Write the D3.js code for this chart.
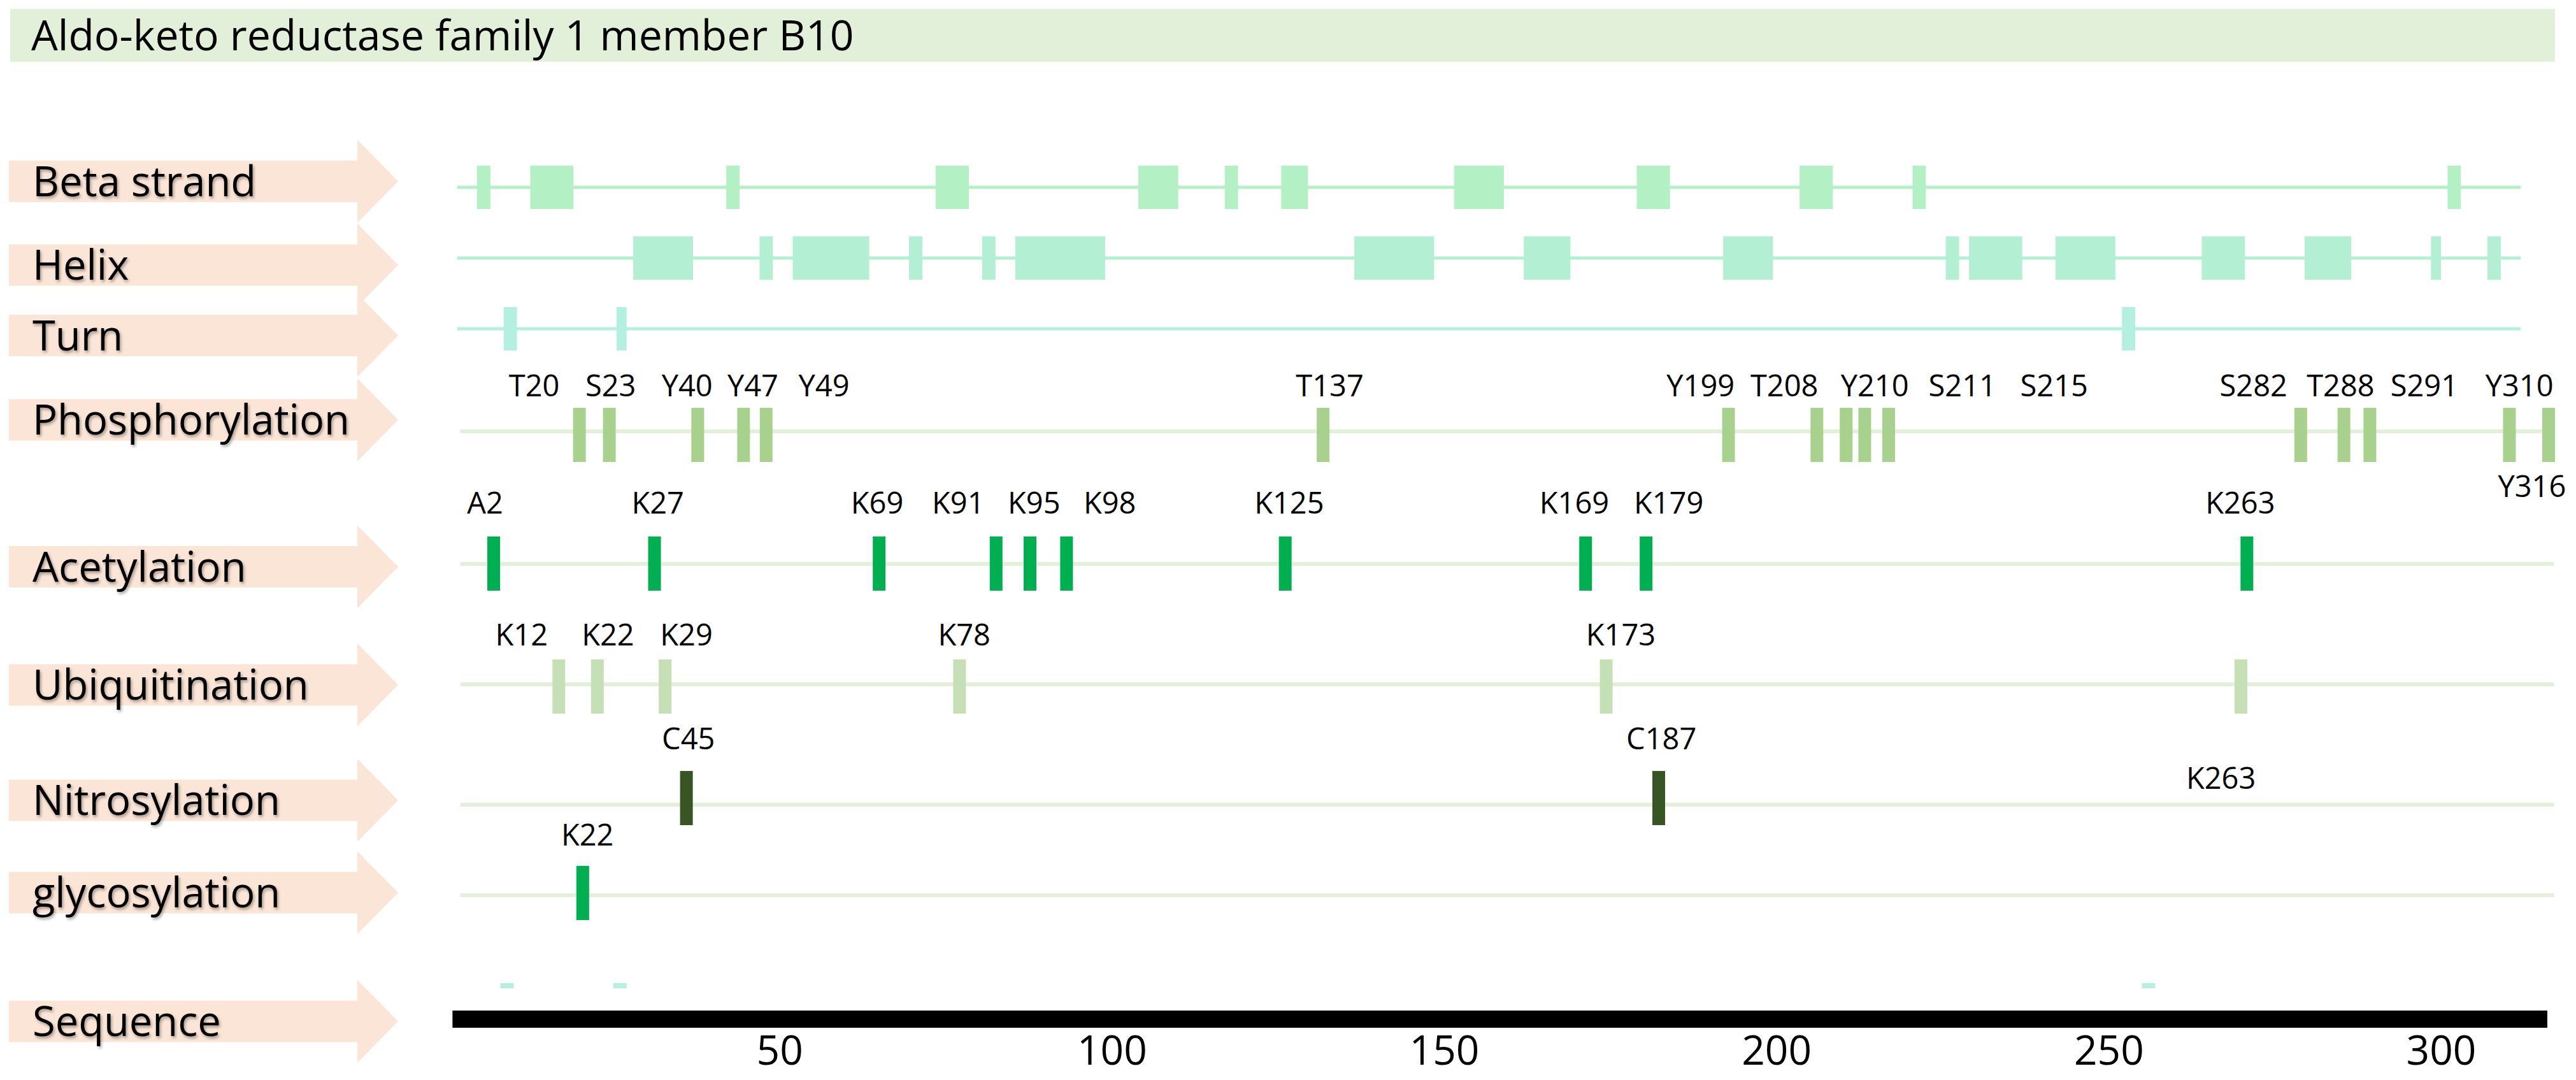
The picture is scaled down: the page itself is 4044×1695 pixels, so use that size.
<!DOCTYPE html>
<html>
<head>
<meta charset="utf-8">
<script src="https://cdn.jsdelivr.net/npm/d3@7"></script>
<style>
  body { margin: 0; background: white; }
  text { font-family: 'Open Sans', sans-serif; }
</style>
</head>
<body>
<div id="container"></div>
<script>
// ---- data (residue positions) ----
const title = 'Aldo-keto reductase family 1 member B10';
const rowNames = ['Beta strand', 'Helix', 'Turn', 'Phosphorylation', 'Acetylation',
                  'Ubiquitination', 'Nitrosylation', 'glycosylation', 'Sequence'];

const seqLength = 316;
const seqTicks = [50, 100, 150, 200, 250, 300];

const betaStrand = [[4.5,6.5],[12.5,19],[42,44],[73.5,78.5],[104,110],[117,119],[125.5,129.5],
                    [151.5,159],[179,184],[203.5,208.5],[220.5,222.5],[301,303]];
const helix = [[28,37],[47,49],[52,63.5],[69.5,71.5],[80.5,82.5],[85.5,99],[136.5,148.5],[162,169],
               [192,199.5],[225.5,227.5],[229,237],[242,251],[264,270.5],[279.5,286.5],[298.5,300],[307,309]];
const turn = [[8.5,10.5],[25.5,27],[252,254]];
const seqMarks = [[8,10],[25,27],[255,257]];

const phosNames = ['T20','S23','Y40','Y47','Y49','T137','Y199','T208','Y210','S211','S215',
                   'S282','T288','S291','Y310','Y316'];
const phosPos   = [19.9,24.4,37.7,44.6,48.0,131.8,192.8,206.1,210.5,213.3,216.9,278.9,285.4,289.3,310.3,316.2];
const phosLabel = [13.1,24.6,36.1,46.0,56.7,132.8,188.6,201.2,214.8,228.0,241.8,271.8,284.9,297.5,311.8,313.7];

const acetNames = ['A2','K27','K69','K91','K95','K98','K125','K169','K179','K263'];
const acetPos   = [7.0,31.2,65.0,82.6,87.7,93.2,126.1,171.3,180.4,270.8];
const acetLabel = [5.7,31.7,64.7,76.9,88.3,99.7,126.7,169.6,183.8,269.8];

const ubiqNames = ['K12','K22','K29','K78','K173','K263'];
const ubiqPos   = [16.8,22.6,32.8,77.1,174.4,269.9];
const ubiqLabel = [11.2,24.2,36.0,77.8,176.6,266.9];

const nitroNames = ['C45','C187'];
const nitroPos   = [36.0,182.3];
const nitroLabel = [36.3,182.7];

const glycoNames = ['K22'];
const glycoPos   = [20.4];
const glycoLabel = [21.1];

// ---- layout ----
let w = 4044, h = 1695;

let viz = d3.select('#container')
  .append('svg')
    .attr('width', w)
    .attr('height', h)
    .style('display', 'block')
    .style('background', 'white');

let x = d3.scaleLinear().domain([0, 300]).range([702, 3832]);

let arrowY = [284.5, 416, 526.5, 659, 889.5, 1075, 1256, 1401, 1603];

let defs = viz.append('defs');
let shadow = defs.append('filter').attr('id', 'shadow')
  .attr('x', '-10%').attr('y', '-30%').attr('width', '120%').attr('height', '160%');
shadow.append('feDropShadow')
  .attr('dx', 2).attr('dy', 3).attr('stdDeviation', 2)
  .attr('flood-color', '#000').attr('flood-opacity', 0.35);

function main() {
  // title band
  viz.append('rect')
    .attr('x', 16).attr('y', 14).attr('width', 3995).attr('height', 83)
    .attr('fill', '#e2f0d9');
  viz.append('text')
    .attr('x', 49).attr('y', 79)
    .attr('font-size', 66)
    .attr('fill', 'black')
    .text(title);

  // row arrows
  let arrows = viz.append('g');
  arrows.selectAll('path').data(rowNames).enter()
    .append('path')
      .attr('d', (d, i) => {
        let cy = arrowY[i];
        return 'M14,' + (cy - 32.5) + 'L561,' + (cy - 32.5) + 'L561,' + (cy - 65) +
               'L625,' + cy + 'L561,' + (cy + 65) + 'L561,' + (cy + 32.5) + 'L14,' + (cy + 32.5) + 'Z';
      })
      .attr('fill', '#fbe5d6');
  arrows.selectAll('text').data(rowNames).enter()
    .append('text')
      .attr('x', 51)
      .attr('y', (d, i) => arrowY[i] + 23)
      .attr('font-size', 65)
      .attr('fill', 'black')
      .attr('filter', 'url(#shadow)')
      .text(d => d);

  // secondary structure tracks
  let structs = [
    {data: betaStrand, y: 294, color: '#b3f0c4'},
    {data: helix, y: 405, color: '#b3efd3'},
    {data: turn, y: 516, color: '#b3f0e0'}
  ];
  structs.forEach(s => {
    let g = viz.append('g');
    g.append('line')
      .attr('x1', x(1.5)).attr('x2', x(312))
      .attr('y1', s.y).attr('y2', s.y)
      .attr('stroke', s.color).attr('stroke-width', 5);
    g.selectAll('rect').data(s.data).enter()
      .append('rect')
        .attr('x', d => x(d[0]))
        .attr('width', d => x(d[1]) - x(d[0]))
        .attr('y', s.y - 34)
        .attr('height', 68)
        .attr('fill', s.color);
  });

  // PTM tracks
  let ptms = [
    {names: phosNames, pos: phosPos, lab: phosLabel, line: 677, mark: 682, base: 622, color: '#a9d18e'},
    {names: acetNames, pos: acetPos, lab: acetLabel, line: 885, mark: 884, base: 806, color: '#00b050'},
    {names: ubiqNames, pos: ubiqPos, lab: ubiqLabel, line: 1074, mark: 1077, base: 1013, color: '#c5e0b4'},
    {names: nitroNames, pos: nitroPos, lab: nitroLabel, line: 1263, mark: 1252, base: 1176, color: '#375623'},
    {names: glycoNames, pos: glycoPos, lab: glycoLabel, line: 1405, mark: 1401, base: 1327, color: '#00b050'}
  ];
  ptms.forEach(p => {
    let g = viz.append('g');
    g.append('line')
      .attr('x1', x(2)).attr('x2', x(317))
      .attr('y1', p.line).attr('y2', p.line)
      .attr('stroke', '#e2f0d9').attr('stroke-width', 6);
    g.selectAll('rect').data(p.pos).enter()
      .append('rect')
        .attr('x', d => x(d) - 10)
        .attr('width', 20)
        .attr('y', p.mark - 42)
        .attr('height', 85)
        .attr('fill', p.color);
    g.selectAll('text').data(p.names).enter()
      .append('text')
        .attr('x', (d, i) => x(p.lab[i]))
        .attr('y', d => {
          // a couple of labels sit away from their row in the original
          if (p.names === phosNames && d === 'Y316') return 780;
          if (p.names === ubiqNames && d === 'K263') return 1238;
          return p.base;
        })
        .attr('text-anchor', 'middle')
        .attr('font-size', 47)
        .attr('fill', 'black')
        .text(d => d);
  });

  // sequence bar + axis
  viz.append('g').selectAll('rect').data(seqMarks).enter()
    .append('rect')
      .attr('x', d => x(d[0]))
      .attr('width', d => x(d[1]) - x(d[0]))
      .attr('y', 1543).attr('height', 8)
      .attr('fill', '#b3f0e0');

  viz.append('rect')
    .attr('x', x(0.8)).attr('width', x(seqLength) - x(0.8))
    .attr('y', 1586).attr('height', 27)
    .attr('fill', 'black');

  let axis = viz.append('g')
    .attr('transform', 'translate(0,1613)')
    .call(d3.axisBottom(x).tickValues(seqTicks).tickSize(0).tickPadding(13));
  axis.select('.domain').remove();
  axis.selectAll('text')
    .attr('font-family', "'Open Sans', sans-serif")
    .attr('font-size', 64)
    .attr('fill', 'black');
}

main();
</script>
</body>
</html>
